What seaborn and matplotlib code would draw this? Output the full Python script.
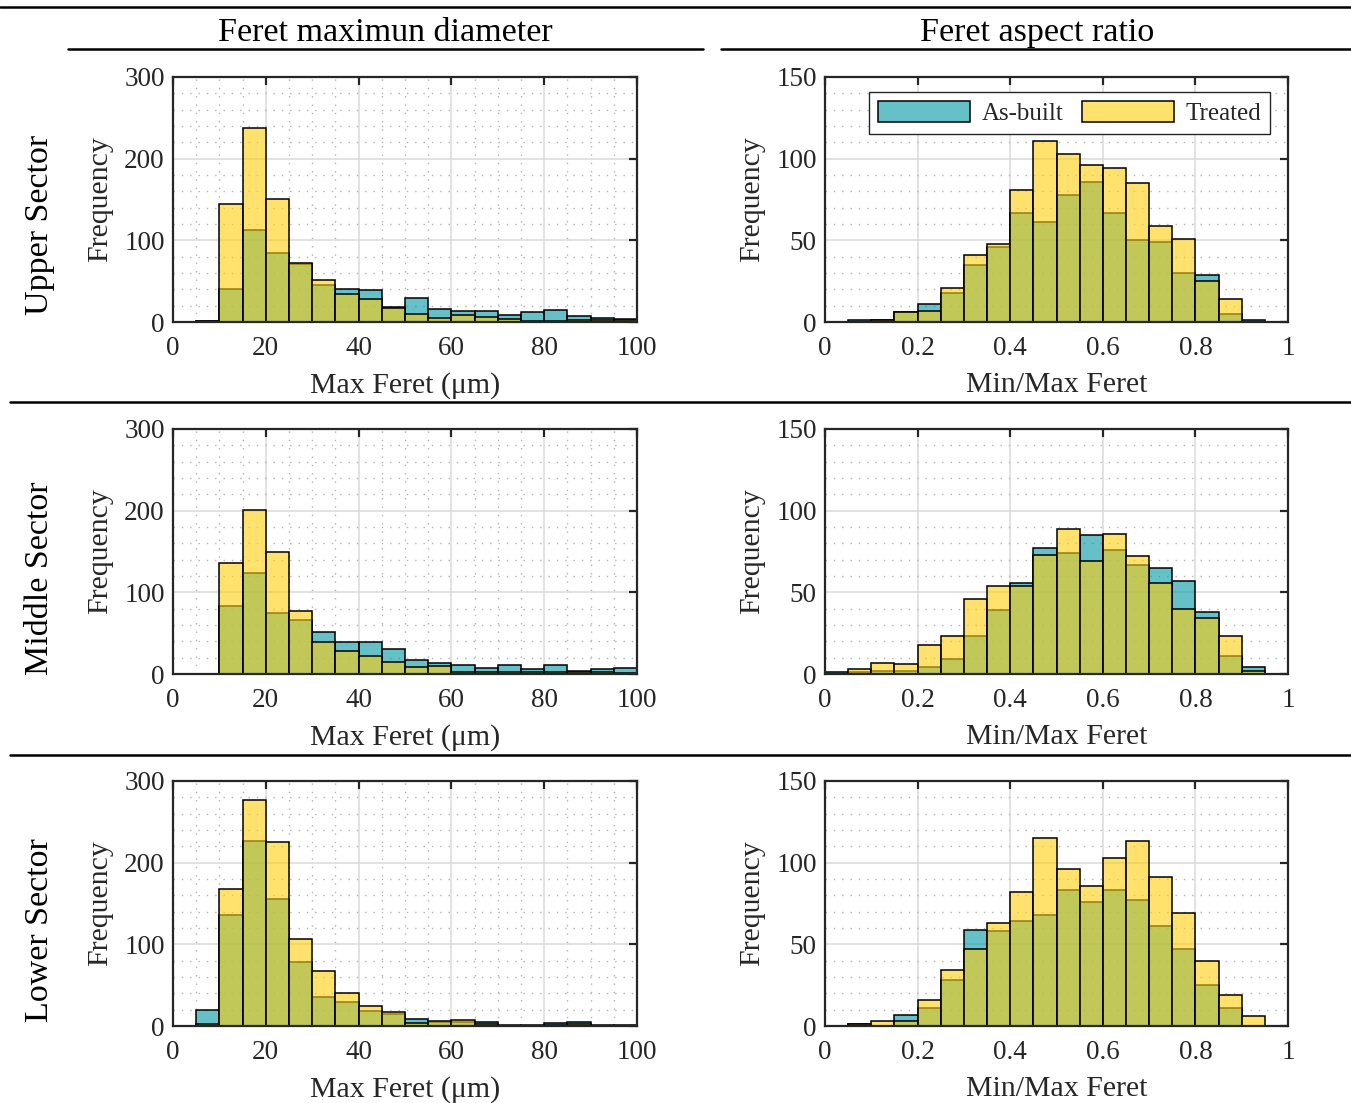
import numpy as np
import pandas as pd
import matplotlib
matplotlib.use("Agg")
import matplotlib.pyplot as plt
import seaborn as sns
from matplotlib.lines import Line2D
from matplotlib.patches import Patch
from matplotlib.ticker import MultipleLocator, FixedLocator

# ---------------- data ----------------
series_names = ["As-built", "Treated"]
column_titles = ["Feret maximun diameter", "Feret aspect ratio"]
row_titles = ["Upper Sector", "Middle Sector", "Lower Sector"]
x_labels = ["Max Feret (\u03bcm)", "Min/Max Feret"]
y_label = "Frequency"

# bins: max Feret (0..100 step 5), aspect ratio (0..1 step 0.05)
feret_bin_width = 5
ratio_bin_width = 0.05

feret_xticks = [0, 20, 40, 60, 80, 100]
feret_xticklabels = ["0", "20", "40", "60", "80", "100"]
ratio_xticks = [0, 0.2, 0.4, 0.6, 0.8, 1.0]
ratio_xticklabels = ["0", "0.2", "0.4", "0.6", "0.8", "1"]
feret_yticks = [0, 100, 200, 300]
ratio_yticks = [0, 50, 100, 150]

# counts per bin (20 bins each)
upper_feret_asbuilt = [0, 1, 40, 113, 85, 71, 45, 41, 39, 18, 29, 16, 13, 13, 9, 12, 15, 7, 5, 4]
upper_feret_treated = [0, 1, 144, 237, 151, 72, 52, 34, 28, 17, 10, 5, 9, 6, 4, 1, 1, 2, 3, 2]
upper_ratio_asbuilt = [0, 1, 1, 6, 11, 18, 35, 46, 67, 61, 78, 86, 67, 50, 49, 30, 29, 5, 1, 0]
upper_ratio_treated = [0, 0, 1, 6, 7, 21, 41, 48, 81, 111, 103, 96, 94, 85, 59, 51, 25, 14, 0, 0]

middle_feret_asbuilt = [0, 0, 83, 124, 75, 66, 51, 39, 39, 31, 17, 13, 11, 7, 11, 6, 11, 4, 6, 7]
middle_feret_treated = [0, 0, 136, 201, 150, 77, 39, 28, 22, 15, 9, 10, 3, 2, 3, 2, 2, 3, 2, 1]
middle_ratio_asbuilt = [1, 1, 2, 2, 4, 9, 23, 39, 56, 77, 74, 85, 76, 67, 65, 57, 38, 11, 4, 0]
middle_ratio_treated = [0, 3, 7, 6, 18, 23, 46, 54, 54, 73, 89, 69, 86, 72, 56, 40, 34, 23, 2, 0]

lower_feret_asbuilt = [0, 20, 136, 227, 155, 78, 36, 29, 18, 15, 9, 5, 5, 5, 1, 1, 4, 5, 1, 1]
lower_feret_treated = [0, 2, 168, 277, 225, 106, 67, 40, 24, 17, 4, 6, 7, 2, 0, 0, 1, 2, 0, 0]
lower_ratio_asbuilt = [0, 1, 0, 7, 11, 28, 59, 58, 64, 68, 83, 76, 83, 77, 61, 47, 25, 11, 0, 0]
lower_ratio_treated = [0, 1, 3, 3, 16, 34, 47, 63, 82, 115, 96, 86, 103, 113, 91, 69, 40, 19, 6, 0]

panels = [
    [(upper_feret_asbuilt, upper_feret_treated), (upper_ratio_asbuilt, upper_ratio_treated)],
    [(middle_feret_asbuilt, middle_feret_treated), (middle_ratio_asbuilt, middle_ratio_treated)],
    [(lower_feret_asbuilt, lower_feret_treated), (lower_ratio_asbuilt, lower_ratio_treated)],
]

# ---------------- style ----------------
sns.set_theme(style="white")
plt.rcParams["font.family"] = ["Liberation Serif", "DejaVu Serif"]

color_asbuilt = (0.0, 0.59, 0.64)
color_treated = (1.0, 0.81, 0.05)
face_alpha = 0.6
axis_color = "#262626"

tick_fs = 19.5
label_fs = 21.5
title_fs = 24.5
legend_fs = 18

W, H = 1351, 1103
fig = plt.figure(figsize=(W / 100, H / 100), dpi=100)

col_left = [173, 825]
col_width = [464, 463]
row_top = [77, 429, 781]
ax_h = 245

for r in range(3):
    for c in range(2):
        left = col_left[c] / W
        bottom = 1 - (row_top[r] + ax_h) / H
        ax = fig.add_axes([left, bottom, col_width[c] / W, ax_h / H])
        asb, trt = panels[r][c]
        bw = feret_bin_width if c == 0 else ratio_bin_width
        nb = len(asb)
        edges = [float(v) for v in np.arange(nb + 1) * bw]
        centers = [e + bw / 2 for e in edges[:-1]]
        df = pd.DataFrame({"x": centers, "asbuilt": asb, "treated": trt})
        sns.histplot(data=df, x="x", weights="asbuilt", bins=edges, ax=ax,
                     color=color_asbuilt, alpha=face_alpha, edgecolor="black",
                     linewidth=1.1)
        sns.histplot(data=df, x="x", weights="treated", bins=edges, ax=ax,
                     color=color_treated, alpha=face_alpha, edgecolor="black",
                     linewidth=1.1)
        if c == 0:
            ax.set_xlim(0, 100)
            ax.set_ylim(0, 300)
            ax.xaxis.set_major_locator(FixedLocator(feret_xticks))
            ax.set_xticklabels(feret_xticklabels)
            ax.yaxis.set_major_locator(FixedLocator(feret_yticks))
            ax.xaxis.set_minor_locator(MultipleLocator(5))
            ax.yaxis.set_minor_locator(MultipleLocator(20))
            ax.grid(which="minor", axis="both", color="#b4b4b4", ls=(0, (1, 5)), lw=1.0)
        else:
            ax.set_xlim(0, 1)
            ax.set_ylim(0, 150)
            ax.xaxis.set_major_locator(FixedLocator(ratio_xticks))
            ax.set_xticklabels(ratio_xticklabels)
            ax.yaxis.set_major_locator(FixedLocator(ratio_yticks))
            ax.yaxis.set_minor_locator(MultipleLocator(10))
            ax.grid(which="minor", axis="y", color="#b4b4b4", ls=(0, (1, 5)), lw=1.0)
        ax.grid(which="major", color="#dadada", ls="-", lw=1.1)
        ax.set_axisbelow(True)
        ax.tick_params(which="major", direction="in", top=True, right=True,
                       length=6, width=1.6, color=axis_color,
                       labelsize=tick_fs, labelcolor=axis_color)
        ax.tick_params(axis="x", which="major", pad=10)
        ax.tick_params(axis="y", which="major", pad=6)
        ax.tick_params(which="minor", length=0)
        for sp in ax.spines.values():
            sp.set_visible(True)
            sp.set_color(axis_color)
            sp.set_linewidth(1.6)
        ax.set_xlabel(x_labels[c], fontsize=label_fs, color=axis_color, labelpad=8)
        ax.set_ylabel(y_label, fontsize=label_fs, color=axis_color, labelpad=8)

        if r == 0 and c == 1:
            handles = [
                Patch(facecolor=(*color_asbuilt, face_alpha), edgecolor="black", lw=1.1, label=series_names[0]),
                Patch(facecolor=(*color_treated, face_alpha), edgecolor="black", lw=1.1, label=series_names[1]),
            ]
            leg = ax.legend(handles=handles, ncol=2, loc="upper right",
                            bbox_to_anchor=(1 - 18 / 463, 1 - 15 / 245),
                            borderaxespad=0, fontsize=legend_fs,
                            handlelength=3.7, handleheight=0.9,
                            handletextpad=0.45, columnspacing=0.75,
                            borderpad=0.35, fancybox=False, framealpha=1)
            leg.get_frame().set_edgecolor(axis_color)
            leg.get_frame().set_linewidth(1.0)
            for t in leg.get_texts():
                t.set_color(axis_color)

# column titles
fig.text(385 / W, 1 - 33 / H, column_titles[0], ha="center", va="center",
         fontsize=title_fs, color="black")
fig.text(1037 / W, 1 - 33 / H, column_titles[1], ha="center", va="center",
         fontsize=title_fs, color="black")

# row titles
for y, txt in zip([225, 578, 930], row_titles):
    fig.text(40 / W, 1 - y / H, txt, ha="center", va="center", rotation=90,
             fontsize=title_fs, color="black")

# separator lines
def hline(y, x0, x1):
    fig.add_artist(Line2D([x0 / W, x1 / W], [1 - y / H, 1 - y / H],
                          transform=fig.transFigure, color="black", lw=1.8))

hline(7, 0, W)
hline(49, 68, 703)
hline(49, 721, W)
hline(402, 10, W)
hline(755, 10, W)

fig.savefig("out.png", dpi=100)
